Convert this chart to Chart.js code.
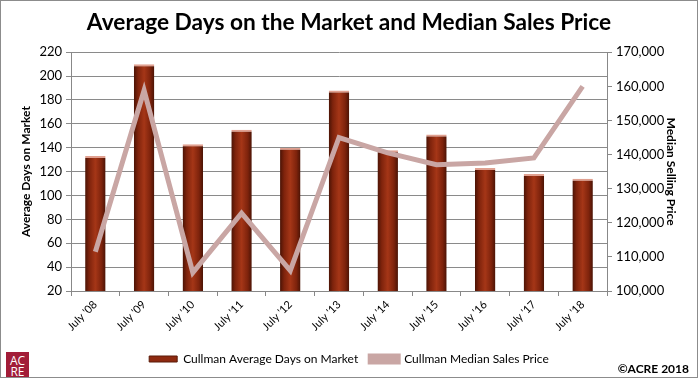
<!DOCTYPE html>
<html>
<head>
<meta charset="utf-8">
<script src="https://cdn.jsdelivr.net/npm/chart.js@4.4.0/dist/chart.umd.min.js"></script>
<style>
  html, body { margin: 0; padding: 0; background: #fff; }
  #wrap { position: relative; width: 698px; height: 378px; box-sizing: border-box; border: 1px solid #8c8c8c; overflow: hidden; }
  canvas { position: absolute; left: 0; top: 0; }
  #logo { position: absolute; left: 5px; top: 351px; width: 23px; height: 30px; background: #a21d38; color: #fff;
          font: 12px "Open Sans", sans-serif; line-height: 11px; text-align: center; padding-top: 3px; box-sizing: border-box; }
  #copy { position: absolute; right: 8px; top: 360px; font: bold 12px Lato, sans-serif; color: #000; }
</style>
</head>
<body>
<div id="wrap">
  <canvas id="chart" width="696" height="376"></canvas>
  <div id="logo">AC<br>RE</div>
  <div id="copy">©ACRE 2018</div>
</div>
<script>
// Chart data
const years = ["July '08", "July '09", "July '10", "July '11", "July '12", "July '13",
               "July '14", "July '15", "July '16", "July '17", "July '18"];
const avgDays = [133, 210, 143, 155, 140, 188, 138, 151, 123, 118, 114];
const medianPrice = [111500, 158800, 105400, 122800, 106000, 145000, 140500, 137000, 137500, 139000, 160000];

const fontFamily = "Lato, 'Open Sans', sans-serif";
const barPct = 0.42;

// Bar fill: dark edges, brighter middle (built from the x scale so it follows each bar)
function barFill(ctx) {
  const chart = ctx.chart;
  const xs = chart.scales && chart.scales.x;
  if (ctx.type !== 'data' || !xs || !chart.chartArea) return '#8b2a12';
  const cx = xs.getPixelForValue(ctx.dataIndex);
  const half = xs.width / years.length * barPct / 2;
  const g = chart.ctx.createLinearGradient(cx - half, 0, cx + half, 0);
  g.addColorStop(0, '#4a1305');
  g.addColorStop(0.2, '#7e230c');
  g.addColorStop(0.5, '#a53617');
  g.addColorStop(0.8, '#7e230c');
  g.addColorStop(1, '#4a1305');
  return g;
}

const chart = new Chart(document.getElementById('chart'), {
  data: {
    labels: years,
    datasets: [
      {
        type: 'line',
        label: 'Cullman Median Sales Price',
        data: medianPrice,
        yAxisID: 'y2',
        borderColor: '#c9a6a4',
        backgroundColor: '#c9a6a4',
        borderWidth: 5,
        pointRadius: 0,
        tension: 0,
        order: 1
      },
      {
        type: 'bar',
        label: 'Cullman Average Days on Market',
        data: avgDays,
        yAxisID: 'y',
        backgroundColor: barFill,
        borderColor: '#e0a090',
        borderWidth: { top: 2, left: 0, right: 0, bottom: 0 },
        barPercentage: barPct,
        categoryPercentage: 1.0,
        order: 2
      }
    ]
  },
  options: {
    responsive: false,
    animation: false,
    layout: { padding: { left: 0, right: 0, top: 0, bottom: 2 } },
    plugins: {
      title: {
        display: true,
        text: 'Average Days on the Market and Median Sales Price',
        color: '#000',
        font: { family: fontFamily, size: 22.7, weight: 'bold' },
        padding: { top: 8, bottom: 16 }
      },
      legend: {
        position: 'bottom',
        reverse: true,
        labels: {
          color: '#000',
          font: { family: fontFamily, size: 12 },
          boxWidth: 28,
          boxHeight: 6,
          padding: 12,
          generateLabels(c) {
            const items = Chart.defaults.plugins.legend.labels.generateLabels(c);
            items.forEach(it => {
              if (it.datasetIndex === 1) { it.fillStyle = '#8e2a10'; it.strokeStyle = '#5a1a08'; it.lineWidth = 1; }
            });
            return items;
          }
        }
      },
      tooltip: { enabled: false }
    },
    scales: {
      x: {
        offset: true,
        grid: { display: true, drawOnChartArea: false, offset: true, color: '#888', tickLength: 5 },
        border: { color: '#888' },
        ticks: { color: '#000', font: { family: fontFamily, size: 11 }, maxRotation: 45, minRotation: 45, padding: 2 },
        afterFit(s) { s.height = 50; }
      },
      y: {
        position: 'left',
        min: 20, max: 220,
        ticks: { stepSize: 20, color: '#000', font: { family: fontFamily, size: 13 }, padding: 4 },
        grid: { color: '#8a8a8a', tickLength: 5 },
        border: { color: '#888' },
        title: { display: true, text: 'Average Days on Market', color: '#000',
                 font: { family: fontFamily, size: 12, weight: 'bold' }, padding: { top: 18, bottom: 0 } },
        afterFit(s) { s.width = 70; }
      },
      y2: {
        position: 'right',
        min: 100000, max: 170000,
        ticks: { stepSize: 10000, color: '#000', font: { family: fontFamily, size: 13 }, padding: 4,
                 callback: v => v.toLocaleString('en-US') },
        grid: { drawOnChartArea: false, color: '#888', tickLength: 5 },
        border: { color: '#888' },
        title: { display: true, text: 'Median Selling Price', color: '#000',
                 font: { family: fontFamily, size: 12, weight: 'bold' }, padding: { top: 19, bottom: 0 } },
        afterFit(s) { s.width = 90; }
      }
    }
  }
});
</script>
</body>
</html>
